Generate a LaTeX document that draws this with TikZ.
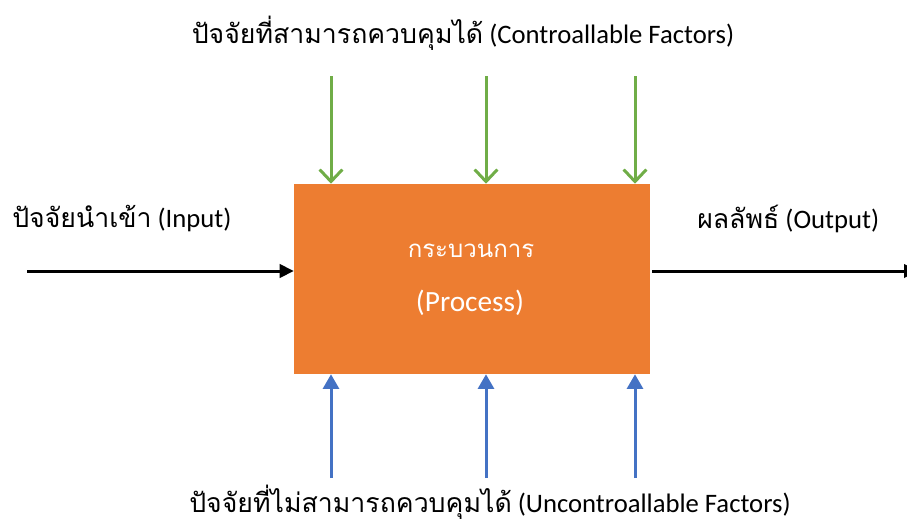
\documentclass[tikz,border=0pt]{standalone}
\usepackage{fontspec}
\setmainfont{Carlito}
\newfontfamily\thaifont[Script=Thai]{Loma}
\usepackage{xcolor}
\usetikzlibrary{arrows.meta}

\definecolor{procorange}{HTML}{ED7D31}
\definecolor{ctrlgreen}{HTML}{70AD47}
\definecolor{unctrlblue}{HTML}{4472C4}

\begin{document}
\begin{tikzpicture}[x=0.75pt,y=-0.75pt,
  lbl/.style={font=\fontsize{20pt}{24pt}\selectfont, inner sep=0pt},
  ctrl/.style={ctrlgreen, line width=2.25pt, -{Straight Barb[length=9pt,width=17pt]}},
  unctrl/.style={unctrlblue, line width=2.25pt, -{Triangle[length=11pt,width=12pt]}},
  flow/.style={black, line width=2.25pt, -{Triangle[length=10.5pt,width=10pt]}}]
\useasboundingbox (0,0) rectangle (907,522);

\node[fill=procorange, minimum width=267pt, minimum height=142.5pt, inner sep=0pt] (box) at (472,279) {};
\node[lbl, text=white, font=\fontsize{18pt}{22pt}\selectfont] (ptitle) at (471,251) {\thaifont กระบวนการ};
\node[lbl, text=white, font=\fontsize{22pt}{26pt}\selectfont] (psub) at (470,303) {(Process)};

\node[lbl] (ctrltxt) at (463,33) {{\thaifont ปัจจัยที่สามารถควบคุมได้} (Controallable Factors)};
\node[lbl] (unctrltxt) at (490,502) {{\thaifont ปัจจัยที่ไม่สามารถควบคุมได้} (Uncontroallable Factors)};
\node[lbl, anchor=west] (intxt) at (12,219) {{\thaifont ปัจจัยนำเข้า} (Input)};
\node[lbl, anchor=west] (outtxt) at (697,219) {{\thaifont ผลลัพธ์} (Output)};

\coordinate (c1) at (331,76);
\coordinate (c2) at (486,76);
\coordinate (c3) at (635,76);
\coordinate (u1) at (331,478);
\coordinate (u2) at (486,478);
\coordinate (u3) at (635,478);
\coordinate (in) at (27,271);
\coordinate (out) at (918,271);

\draw[ctrl] (c1) -- (c1 |- box.north);
\draw[ctrl] (c2) -- (c2 |- box.north);
\draw[ctrl] (c3) -- (c3 |- box.north);

\draw[unctrl] (u1) -- (u1 |- box.south);
\draw[unctrl] (u2) -- (u2 |- box.south);
\draw[unctrl] (u3) -- (u3 |- box.south);

\draw[flow] (in) -- (in -| box.west);
\draw[flow] (box.east |- out) ++(2,0) -- (out);

\end{tikzpicture}
\end{document}
